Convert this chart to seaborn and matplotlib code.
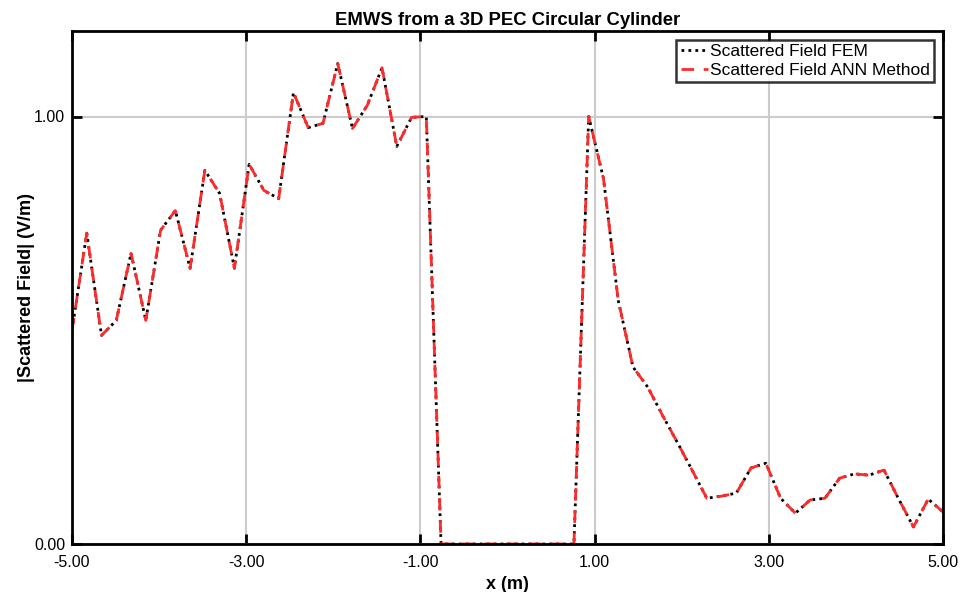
import numpy as np
import pandas as pd
import matplotlib
matplotlib.use("Agg")
import matplotlib.pyplot as plt
import seaborn as sns

# ---- data ----
x_start, x_end, n_points = -5.0, 5.0, 60
fem_values = [0.500, 0.727, 0.488, 0.523, 0.680, 0.523, 0.734, 0.780, 0.645, 0.874,
              0.820, 0.645, 0.888, 0.827, 0.808, 1.056, 0.974, 0.984, 1.124, 0.972,
              1.026, 1.114, 0.930, 0.998, 1.000, 0.0, 0.0, 0.0, 0.0, 0.0,
              0.0, 0.0, 0.0, 0.0, 0.0, 1.000, 0.855, 0.570, 0.414, 0.367,
              0.301, 0.238, 0.173, 0.107, 0.112, 0.119, 0.178, 0.189, 0.107, 0.072,
              0.103, 0.107, 0.154, 0.164, 0.161, 0.173, 0.105, 0.040, 0.105, 0.075]
ann_values = [0.500, 0.727, 0.488, 0.523, 0.680, 0.523, 0.734, 0.780, 0.645, 0.874,
              0.820, 0.645, 0.888, 0.827, 0.808, 1.056, 0.974, 0.984, 1.124, 0.972,
              1.026, 1.114, 0.930, 0.998, 1.000, 0.0, 0.0, 0.0, 0.0, 0.0,
              0.0, 0.0, 0.0, 0.0, 0.0, 1.000, 0.855, 0.570, 0.414, 0.367,
              0.301, 0.238, 0.173, 0.107, 0.112, 0.119, 0.178, 0.189, 0.107, 0.072,
              0.103, 0.107, 0.154, 0.164, 0.161, 0.173, 0.105, 0.040, 0.105, 0.075]
x_ticks = [-5, -3, -1, 1, 3, 5]
y_ticks = [0, 1]
series_names = ["Scattered Field FEM", "Scattered Field ANN Method"]

x_vals = np.linspace(x_start, x_end, n_points)
df_fem = pd.DataFrame({"x": x_vals, "y": fem_values})
df_ann = pd.DataFrame({"x": x_vals, "y": ann_values})

sns.set_style("white")
plt.rcParams["font.family"] = ["Liberation Sans", "DejaVu Sans"]
plt.rcParams["text.color"] = "black"
plt.rcParams["axes.labelcolor"] = "black"
plt.rcParams["xtick.color"] = "black"
plt.rcParams["ytick.color"] = "black"

fig = plt.figure(figsize=(9.61, 5.92), dpi=100)
ax = fig.add_axes([72 / 961, 1 - 544 / 592, (943 - 72) / 961, (544 - 31) / 592])

sns.lineplot(data=df_fem, x="x", y="y", ax=ax, color="black", linewidth=2.0,
             linestyle=(0, (1, 1.5)), label=series_names[0])
sns.lineplot(data=df_ann, x="x", y="y", ax=ax, color="#ff2a2a", linewidth=2.0,
             linestyle=(0, (4.5, 3.5)), label=series_names[1])

ax.set_xlim(-5, 5)
ax.set_ylim(0, 1.2)
ax.set_xticks(x_ticks)
ax.set_yticks(y_ticks)
ax.set_xticklabels([f"{v:.2f}" for v in x_ticks], fontsize=11.5)
ax.set_yticklabels([f"{v:.2f}" for v in y_ticks], fontsize=11.5)
ax.tick_params(axis="both", direction="in", length=7, width=2,
               top=True, right=True, bottom=True, left=True, colors="black")
ax.tick_params(axis="x", pad=8)
ax.tick_params(axis="y", pad=5)
ax.grid(True, color="#cccccc", linewidth=1.5)
ax.set_axisbelow(True)
for s in ax.spines.values():
    s.set_visible(True)
    s.set_color("black")
    s.set_linewidth(2)

ax.set_title("EMWS from a 3D PEC Circular Cylinder", fontsize=13.3, fontweight="bold",
             color="black", pad=4)
ax.set_xlabel("x (m)", fontsize=13, fontweight="bold", color="black", labelpad=4)
ax.set_ylabel("|Scattered Field| (V/m)", fontsize=13, fontweight="bold", color="black")
ax.yaxis.set_label_coords(-0.042, 0.5)

leg = ax.legend(loc="upper right", fontsize=12.5, frameon=True, fancybox=False,
                handlelength=1.6, handletextpad=0.1, borderpad=0.25, labelspacing=0.2,
                borderaxespad=0.5)
leg.get_frame().set_edgecolor("black")
leg.get_frame().set_linewidth(1.8)
for t in leg.get_texts():
    t.set_color("black")

fig.savefig("out.png", dpi=100)
